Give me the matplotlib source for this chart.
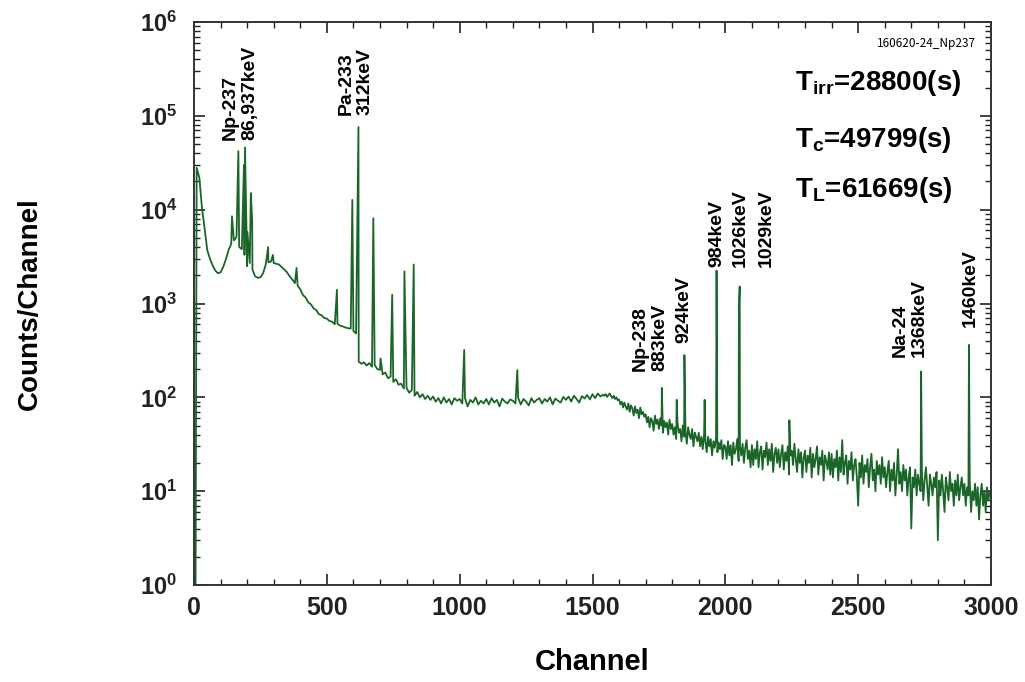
import numpy as np
import matplotlib
matplotlib.use("Agg")
import matplotlib.pyplot as plt
from matplotlib.ticker import LogLocator, MultipleLocator, NullFormatter, FuncFormatter

# ---------------- data ----------------
lead_channels = [0, 6]
lead_counts = [1, 1]

# low-energy part, every 10 channels from channel 10 to 1540
counts_a_start = 10
counts_a_step = 10
counts_a = [
    # 10-90
    28000, 22000, 10500, 6200, 3700, 3000, 2550, 2250, 2100,
    # 100-190
    2150, 2450, 2950, 3700, 4300, 4700, 5100, 4000, 3800, 3300,
    # 200-290
    2500, 2700, 2300, 1950, 1880, 1900, 2100, 2600, 2750, 2800,
    # 300-390
    2700, 2650, 2600, 2450, 2300, 2150, 1950, 1800, 1650, 1550,
    # 400-490
    1420, 1230, 1160, 1030, 980, 890, 850, 770, 750, 700,
    # 500-590
    690, 650, 640, 600, 610, 580, 570, 555, 545, 540,
    # 600-690
    510, 480, 240, 228, 236, 218, 232, 212, 222, 200,
    # 700-790
    196, 176, 184, 160, 166, 146, 156, 136, 140, 124,
    # 800-890
    126, 112, 120, 104, 114, 100, 108, 96, 104, 94,
    # 900-990
    102, 90, 98, 86, 100, 88, 96, 84, 98, 92,
    # 1000-1090
    96, 86, 98, 80, 94, 88, 100, 84, 92, 86,
    # 1100-1190
    96, 84, 98, 88, 94, 80, 97, 90, 86, 95,
    # 1200-1290
    92, 86, 99, 84, 96, 90, 82, 98, 88, 94,
    # 1300-1390
    98, 86, 96, 90, 100, 84, 97, 92, 88, 101,
    # 1400-1490
    94, 102, 90, 104, 96, 88, 103, 97, 106, 95,
    # 1500-1540
    108, 98, 110, 102, 107,
]

# high-energy (noisy) part, every 5 channels from channel 1545 to 3000
counts_b_start = 1545
counts_b_step = 5
counts_b = [
    # 1545-1595
    104, 108, 101, 106, 110, 103, 98, 104, 96, 100, 93,
    # 1600-1695
    95, 84, 90, 78, 88, 80, 74, 86, 70, 82, 76, 64, 80, 68, 74, 60, 78, 66, 70, 62,
    # 1700-1795
    66, 54, 62, 48, 60, 56, 44, 64, 52, 58, 46, 60, 50, 42, 56, 48, 54, 40, 58, 46,
    # 1800-1895
    52, 40, 48, 36, 54, 42, 46, 34, 50, 38, 44, 32, 48, 40, 36, 46, 30, 42, 38, 34,
    # 1900-1995
    42, 30, 38, 28, 40, 34, 26, 38, 30, 36, 24, 34, 29, 37, 26, 33, 28, 35, 22, 31,
    # 2000-2095
    30, 22, 34, 24, 31, 19, 33, 25, 28, 36, 21, 30, 24, 32, 20, 29, 35, 22, 27, 18,
    # 2100-2195
    31, 19, 28, 22, 34, 18, 26, 30, 17, 27, 23, 33, 19, 28, 21, 32, 16, 25, 29, 20,
    # 2200-2295
    28, 18, 25, 31, 17, 26, 21, 30, 15, 24, 27, 19, 32, 22, 16, 28, 20, 26, 14, 23,
    # 2300-2395
    27, 16, 24, 20, 29, 14, 25, 18, 22, 30, 15, 23, 19, 27, 13, 24, 21, 17, 26, 15,
    # 2400-2495
    25, 14, 22, 18, 27, 13, 23, 16, 35, 15, 20, 24, 12, 21, 17, 26, 13, 19, 22, 14,
    # 2500-2595
    7, 20, 14, 24, 12, 19, 16, 22, 11, 18, 25, 13, 17, 10, 21, 15, 19, 12, 23, 14,
    # 2600-2695
    18, 11, 16, 21, 10, 17, 13, 20, 9, 15, 28, 12, 16, 10, 19, 13, 17, 9, 14, 18,
    # 2700-2795
    4, 14, 11, 17, 9, 15, 12, 10, 16, 8, 13, 18, 11, 7, 15, 12, 9, 14, 11, 16,
    # 2800-2895
    3, 13, 9, 15, 10, 6, 14, 11, 8, 16, 10, 12, 7, 13, 9, 15, 8, 11, 14, 9,
    # 2900-2995
    12, 7, 11, 9, 13, 6, 10, 8, 12, 7, 11, 5, 9, 12, 7, 10, 6, 11, 8, 10,
    # 3000
    9,
]

peak_channels = [143, 167, 188, 192, 201, 214, 219, 279, 297, 386, 538, 596,
                 619, 675, 702, 746, 792, 827, 1017, 1217, 1761, 1817, 1846,
                 1922, 1967, 2051, 2054, 2241, 2737, 2917]
peak_counts = [8500, 42000, 30000, 46000, 5800, 15000, 7500, 4000, 3300, 2400,
               1400, 12700, 76000, 8100, 260, 1240, 2200, 2600, 320, 195, 126,
               94, 282, 94, 2240, 900, 1520, 57, 188, 362]

# annotations: (text, channel, counts at bottom of the text)
label_texts = ["Np-237\n86,937keV", "Pa-233\n312keV", "Np-238\n883keV",
               "924keV", "984keV", "1026keV", "1029keV", "Na-24\n1368keV",
               "1460keV"]
label_channels = [173, 608, 1717, 1843, 1967, 2055, 2155, 2693, 2921]
label_counts = [5.5e4, 1.02e5, 190, 380, 2450, 2450, 2450, 270, 560]

time_texts = [r"$\mathbf{T_{irr}}$=28800(s)", r"$\mathbf{T_{c}}$=49799(s)",
              r"$\mathbf{T_{L}}$=61669(s)"]
run_id = "160620-24_Np237"

# ---------------- build spectrum ----------------
ch_a = counts_a_start + counts_a_step * np.arange(len(counts_a))
ch_b = counts_b_start + counts_b_step * np.arange(len(counts_b))
ch = np.concatenate([lead_channels, ch_a, ch_b, peak_channels]).astype(float)
ct = np.concatenate([lead_counts, counts_a, counts_b, peak_counts]).astype(float)
order = np.argsort(ch, kind="stable")
ch, ct = ch[order], ct[order]

# ---------------- plot ----------------
plt.rcParams["font.family"] = ["Liberation Sans", "DejaVu Sans"]
plt.rcParams["font.weight"] = "bold"
plt.rcParams["mathtext.fontset"] = "custom"
plt.rcParams["mathtext.bf"] = "Liberation Sans:bold"
plt.rcParams["mathtext.rm"] = "Liberation Sans:bold"
plt.rcParams["mathtext.default"] = "bf"

fig = plt.figure(figsize=(10.25, 6.82), dpi=100)
ax = fig.add_axes([194 / 1025, 1 - 585 / 682, 797 / 1025, 563 / 682])

ax.plot(ch, ct, color="#1a6628", lw=1.3)

ax.set_yscale("log")
ax.set_xlim(0, 3000)
ax.set_ylim(1, 1e6)

ax.xaxis.set_major_locator(MultipleLocator(500))
ax.xaxis.set_minor_locator(MultipleLocator(100))
ax.yaxis.set_major_locator(LogLocator(base=10, numticks=10))
ax.yaxis.set_minor_locator(LogLocator(base=10, subs=np.arange(2, 10), numticks=20))
ax.yaxis.set_minor_formatter(NullFormatter())
ax.yaxis.set_major_formatter(FuncFormatter(lambda v, p: r"$\mathbf{10^{%d}}$" % int(round(np.log10(v)))))

ax.tick_params(which="both", direction="in", top=True, right=True, colors="#222222")
ax.tick_params(which="major", length=8, width=1.2)
ax.tick_params(which="minor", length=4, width=1.0)
ax.tick_params(axis="x", which="major", labelsize=18, pad=8)
ax.tick_params(axis="y", which="major", labelsize=17, pad=12)
for lbl in ax.get_xticklabels():
    lbl.set_fontfamily(["Liberation Sans Narrow", "Liberation Sans"])
    lbl.set_fontweight("bold")
for sp in ax.spines.values():
    sp.set_linewidth(1.4)
    sp.set_color("#333333")

ax.set_xlabel("Channel", fontsize=21, fontweight="bold", labelpad=20)
ax.set_ylabel("Counts/Channel", fontsize=20, fontweight="bold", labelpad=70)

for txt, c, v in zip(label_texts, label_channels, label_counts):
    ax.text(c, v, txt, rotation=90, ha="center", va="bottom",
            multialignment="left", fontsize=14, fontweight="bold",
            linespacing=1.15)

ty = [0.879, 0.778, 0.689]
for txt, y in zip(time_texts, ty):
    ax.text(0.754, y, txt, transform=ax.transAxes, ha="left", va="baseline",
            fontsize=20, fontweight="bold")

ax.text(0.981, 0.961, run_id, transform=ax.transAxes, ha="right", va="center",
        fontsize=8.5, fontweight="normal",
        family=["Noto Sans CJK JP", "DejaVu Sans"])

fig.savefig("out.png", dpi=100)
